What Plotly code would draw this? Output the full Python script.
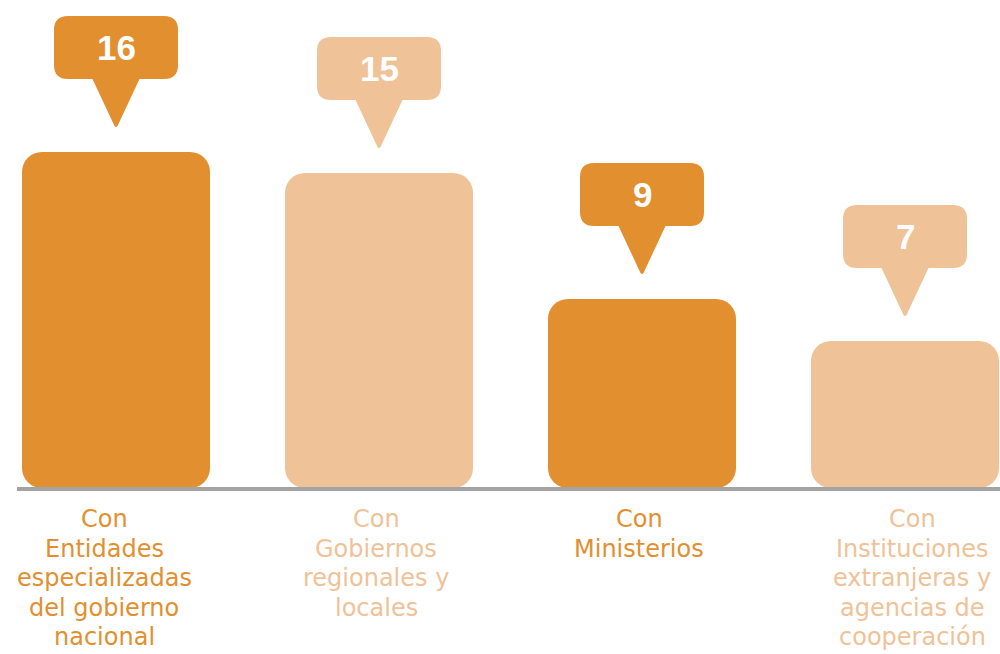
import numpy as np
import plotly.graph_objects as go

# ---- data ----
categories = [
    "Con<br>Entidades<br>especializadas<br>del gobierno<br>nacional",
    "Con<br>Gobiernos<br>regionales y<br>locales",
    "Con<br>Ministerios",
    "Con<br>Instituciones<br>extranjeras y<br>agencias de<br>cooperación",
]
values = [16, 15, 9, 7]
bar_colors = ["#E28F2F", "#EFC297", "#E28F2F", "#EFC297"]

# ---- style ----
PX_PER_UNIT = 21.0
PLOT_H = 488
W, H = 1000, 654
label_xshift = [-12, -3, -3, 7]
LABEL_TOP = 31      # px below baseline to first line centre
LINE_STEP = 29.6

x = np.arange(len(values))
v = np.array(values, dtype=float)

fig = go.Figure()
fig.add_trace(go.Bar(
    x=x, y=v, base=[0] * len(values), width=0.715,
    marker=dict(color=bar_colors, cornerradius=20, line=dict(width=0)),
    hovertext=[str(val) for val in values], hoverinfo="text", showlegend=False,
))

# callout geometry (pixels, relative to bar top, upward positive)
g = 24          # gap from bar top to pointer tip
ph = 49         # pointer height
bw, bh, r = 124, 63, 14
hb = 23.5       # half pointer base
y0 = g + ph
y1 = y0 + bh
xl, xr = -bw / 2, bw / 2
path = (
    f"M {xl + r},{y1} L {xr - r},{y1} Q {xr},{y1} {xr},{y1 - r} "
    f"L {xr},{y0 + r} Q {xr},{y0} {xr - r},{y0} L {hb},{y0} "
    f"L 1.5,{g + 2} Q 0,{g} -1.5,{g + 2} L {-hb},{y0} "
    f"L {xl + r},{y0} Q {xl},{y0} {xl},{y0 + r} L {xl},{y1 - r} "
    f"Q {xl},{y1} {xl + r},{y1} Z"
)

shapes = []
annotations = []
for i, (xi, val, col) in enumerate(zip(x, values, bar_colors)):
    shapes.append(dict(
        type="path", xref="x", yref="y", xsizemode="pixel", ysizemode="pixel",
        xanchor=float(xi), yanchor=float(val), path=path,
        fillcolor=col, line=dict(width=0), layer="above",
    ))
    annotations.append(dict(
        x=float(xi), y=float(val), xref="x", yref="y",
        text=f"<b>{val}</b>", showarrow=False, yshift=(y0 + y1) / 2,
        xanchor="center", yanchor="middle",
        font=dict(family="Liberation Sans, Arial, sans-serif", size=35, color="white"),
    ))
    for k, line in enumerate(categories[i].split("<br>")):
        annotations.append(dict(
            x=float(xi), y=0, xref="x", yref="y",
            text=line, showarrow=False,
            yshift=-(LABEL_TOP + LINE_STEP * k), xshift=label_xshift[i],
            xanchor="center", yanchor="middle", align="center",
            font=dict(family="DejaVu Sans, sans-serif", size=24, color=col),
        ))

# baseline (paper-referenced so it is not clipped by the plot area)
shapes.append(dict(
    type="line", xref="paper", yref="paper", ysizemode="pixel", yanchor=0,
    x0=0.017, x1=1.0, y0=-1, y1=-1,
    line=dict(color="#A3A3A3", width=4), layer="above",
))

left = -116 / 263.0
right = (W - 116) / 263.0

fig.update_layout(
    width=W, height=H,
    margin=dict(l=0, r=0, t=0, b=H - PLOT_H),
    paper_bgcolor="white", plot_bgcolor="white",
    barmode="overlay",
    xaxis=dict(range=[left, right], visible=False, fixedrange=True),
    yaxis=dict(range=[0, PLOT_H / PX_PER_UNIT], visible=False, fixedrange=True),
    shapes=shapes, annotations=annotations,
)

fig.write_html("out.html")
